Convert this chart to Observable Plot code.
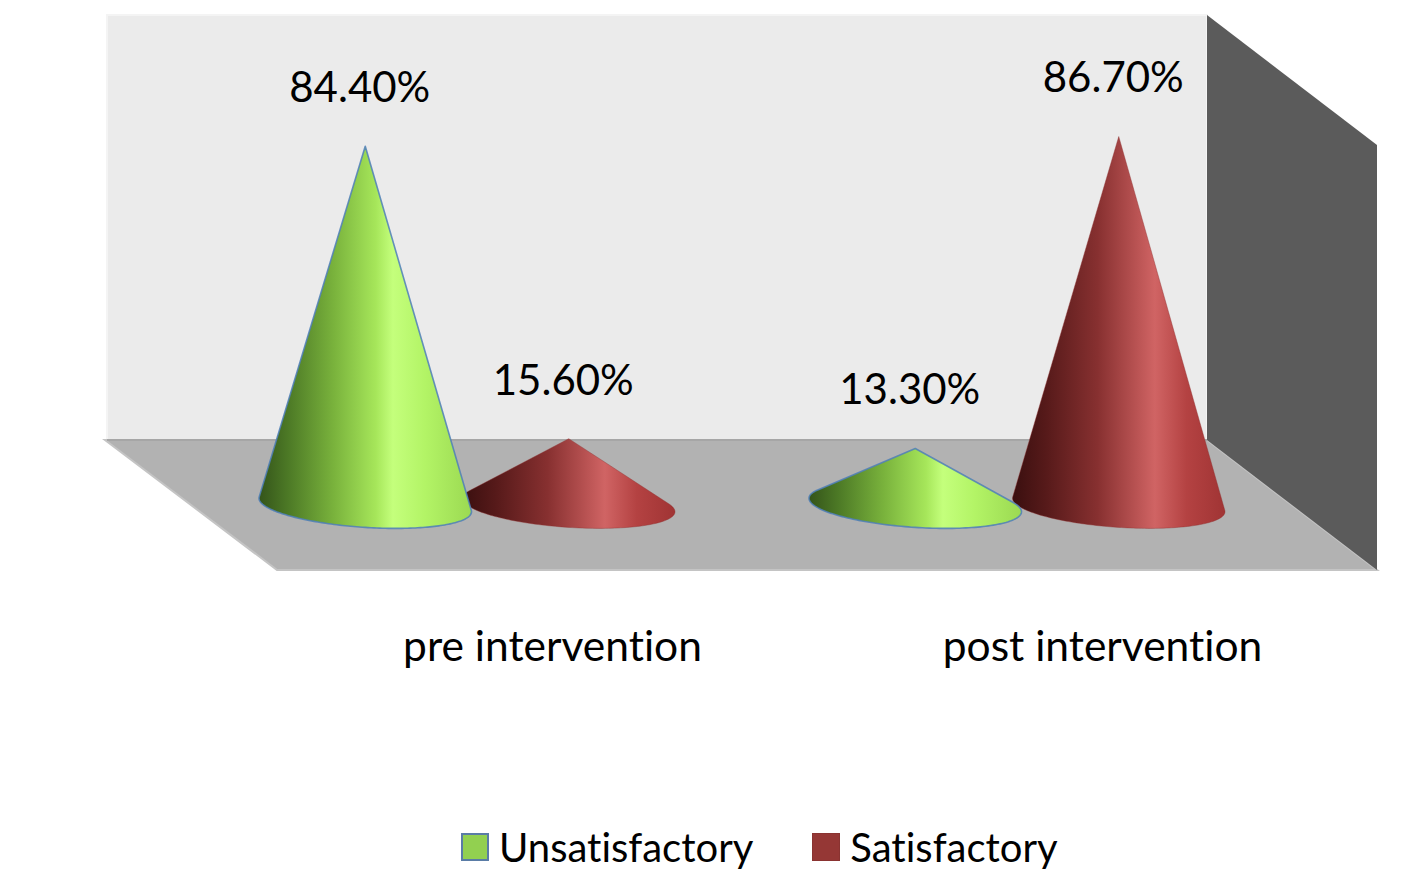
<!DOCTYPE html>
<html>
<head>
<meta charset="utf-8">
<script src="https://cdn.jsdelivr.net/npm/d3@7"></script>
<script src="https://cdn.jsdelivr.net/npm/@observablehq/plot@0.6"></script>
<style>
  html, body { margin: 0; padding: 0; background: #ffffff; }
  #chart svg { display: block; font-variant-ligatures: none; }
  #chart svg text { font-variant-ligatures: none; font-feature-settings: "liga" 0, "clig" 0; }
  #legend { height: 74px; display: flex; align-items: center; padding-left: 461px;
            font-family: Lato, "Open Sans", sans-serif; font-size: 40px; color: #000;
            font-variant-ligatures: none; font-feature-settings: "liga" 0, "clig" 0; }
  #legend .sw { width: 28px; height: 28px; box-sizing: border-box; flex: none; }
  #legend .lbl { margin-left: 10px; line-height: 1; }
</style>
</head>
<body>
<div id="chart"></div>
<div id="legend"></div>
<script>
// ---- data ----
const categories = ["pre intervention", "post intervention"];
const seriesNames = ["Unsatisfactory", "Satisfactory"];
const unsatisfactory = [84.4, 13.3];
const satisfactory = [15.6, 86.7];
const seriesColors = ["#92d050", "#953735"];

// ---- layout constants ----
const W = 1417, H = 810;
const DX = 170, DY = 130;     // oblique depth of the floor (px)
const DEPTH = 0.5;            // cone base plane, fraction of floor depth
const RX = 0.185;             // cone base radius in x units
const RD = 0.18;              // cone base radius as fraction of floor depth
const OFFSET = 0.185;         // series offset from category centre

const rows = [];
categories.forEach((c, ci) => {
  [unsatisfactory, satisfactory].forEach((vals, si) => {
    rows.push({category: c, series: seriesNames[si], si, value: vals[ci],
               pos: ci + 0.5 + (si === 0 ? -OFFSET : OFFSET)});
  });
});
const catRows = categories.map((c, ci) => ({category: c, pos: ci + 0.5}));

const gradStops = [
  [[0, "#34541a"], [0.14, "#4d7a26"], [0.35, "#79b23c"], [0.55, "#a6e65a"], [0.63, "#c4ff7c"], [0.78, "#b3f466"], [1, "#9bd952"]],
  [[0, "#3a0f0f"], [0.16, "#571a1a"], [0.4, "#873030"], [0.58, "#b85252"], [0.67, "#d06464"], [0.82, "#b44242"], [1, "#a03434"]]
];

function walls(index, {x, y}) {
  const g = d3.create("svg:g");
  const x0 = x(0), x1 = x(2), yb = y(0), yt = y(100);
  g.append("rect").attr("x", x0).attr("y", yt).attr("width", x1 - x0).attr("height", yb - yt)
    .attr("fill", "#ebebeb").attr("stroke", "#f4f4f4").attr("stroke-width", 2);
  g.append("path")
    .attr("d", d3.line()([[x0 - 2, yb], [x1, yb], [x1 + DX, yb + DY], [x0 + DX, yb + DY]]) + "Z")
    .attr("fill", "#b2b2b2").attr("stroke", "#c4c4c4").attr("stroke-width", 2);
  g.append("path")
    .attr("d", d3.line()([[x1, yt], [x1 + DX, yt + DY], [x1 + DX, yb + DY], [x1, yb]]) + "Z")
    .attr("fill", "#5b5b5b");
  g.append("line").attr("x1", x0).attr("x2", x1).attr("y1", yb).attr("y2", yb)
    .attr("stroke", "#a6a6a6").attr("stroke-width", 2);
  return g.node();
}

function cones(index, {x, y}) {
  const g = d3.create("svg:g");
  const defs = g.append("defs");
  gradStops.forEach((stops, si) => {
    const lg = defs.append("linearGradient").attr("id", "cone-grad-" + si)
      .attr("x1", 0).attr("x2", 1).attr("y1", 0).attr("y2", 0);
    stops.forEach(([o, c]) => lg.append("stop").attr("offset", o).attr("stop-color", c));
  });
  const order = rows.slice().sort((a, b) => b.si - a.si);
  for (const d of order) {
    const cx = x(d.pos) + DX * DEPTH;
    const cy = y(0) + DY * DEPTH;
    const apexY = y(d.value) + DY * DEPTH;
    const R = x(d.pos + RX) - x(d.pos);
    const ax = DX * RD, by = DY * RD;
    const pv = (apexY - cy) / by;
    const pu = (-ax * pv) / R;
    const dist = Math.hypot(pu, pv);
    const phi = Math.atan2(pv, pu);
    const alpha = Math.acos(Math.min(1, 1 / dist));
    const pts = [[cx, apexY]];
    const n = 120;
    for (let k = 0; k <= n; k++) {
      const t = phi + alpha + (2 * Math.PI - 2 * alpha) * k / n;
      const u = Math.cos(t), v = Math.sin(t);
      pts.push([cx + R * u + ax * v, cy + by * v]);
    }
    g.append("path").attr("d", d3.line()(pts) + "Z")
      .attr("fill", `url(#cone-grad-${d.si})`)
      .attr("stroke", d.si === 0 ? "#4f7fb8" : "#8e3030")
      .attr("stroke-width", d.si === 0 ? 1.6 : 0.8)
      .attr("stroke-opacity", d.si === 0 ? 0.85 : 0.5)
      .attr("stroke-linejoin", "round");
  }
  return g.node();
}

const chart = Plot.plot({
  width: W, height: H,
  marginLeft: 107, marginRight: 210, marginTop: 15, marginBottom: H - 440,
  x: {domain: [0, 2], axis: null},
  y: {domain: [0, 100], axis: null},
  style: {background: "#ffffff", fontFamily: "Lato, 'Open Sans', sans-serif", overflow: "visible"},
  marks: [
    walls,
    cones,
    Plot.text(rows, {x: "pos", y: "value", text: d => d.value.toFixed(2) + "%",
      dx: DX * DEPTH - 6, dy: DY * DEPTH - 58, fontSize: 42, fill: "#000"}),
    Plot.text(catRows, {x: "pos", y: () => 0, text: "category",
      dx: DX, dy: DY + 77, fontSize: 42.5, fill: "#000"})
  ]
});
document.getElementById("chart").appendChild(chart);

// legend
const legend = document.getElementById("legend");
seriesNames.forEach((name, i) => {
  const sw = document.createElement("span");
  sw.className = "sw";
  sw.style.background = seriesColors[i];
  sw.style.border = i === 0 ? "2px solid #5a7ca6" : "1px solid #8a3331";
  if (i > 0) sw.style.marginLeft = "59px";
  const lb = document.createElement("span");
  lb.className = "lbl";
  lb.textContent = name;
  legend.appendChild(sw);
  legend.appendChild(lb);
});
</script>
</body>
</html>
